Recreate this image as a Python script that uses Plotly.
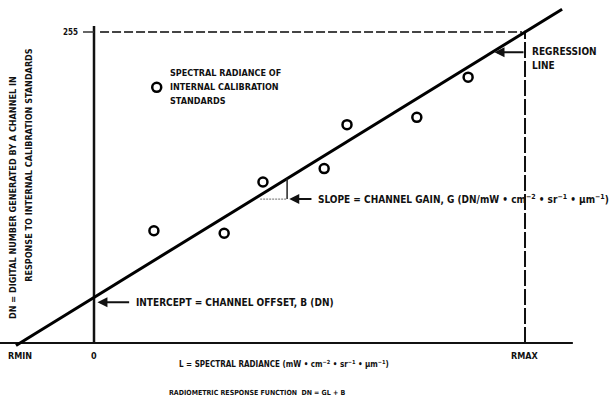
import plotly.graph_objects as go

# ---- data ----
cal_L = [1.39, 3.02, 3.92, 5.34, 5.87, 7.49, 8.68]      # spectral radiance of calibration standards
cal_DN = [92, 90, 132, 143, 179, 185, 218]              # digital numbers
DN_MAX = 255
RMAX = 10.0
RMIN = -1.717
GAIN = DN_MAX / (RMAX - RMIN)
OFFSET = -GAIN * RMIN
line_L = [-1.81, 10.86]
legend_L = [1.455]
legend_DN = [209.6]
x_labels = ["RMIN", "0", "RMAX"]

FONT = "Liberation Sans Narrow, DejaVu Sans Condensed, Arial Narrow, Liberation Sans, sans-serif"

def reg(L):
    return GAIN * L + OFFSET

fig = go.Figure()

# baseline (DN = 0)
fig.add_trace(go.Scatter(x=[-2.181, 11.11], y=[0, 0], mode="lines",
                         line=dict(color="#111", width=2), hoverinfo="skip"))
# vertical axis (L = 0)
fig.add_trace(go.Scatter(x=[0, 0], y=[0, 260], mode="lines",
                         line=dict(color="#111", width=2.5), hoverinfo="skip"))
# RMAX line
fig.add_trace(go.Scatter(x=[RMAX, RMAX], y=[0, DN_MAX + 1], mode="lines",
                         line=dict(color="#111", width=2, dash="16px,3px"), hoverinfo="skip"))
# 255 dashed level
fig.add_trace(go.Scatter(x=[0.14, 9.93], y=[DN_MAX, DN_MAX], mode="lines",
                         line=dict(color="#444", width=1.8, dash="9px,3px"), hoverinfo="skip"))
# small tick at 255
fig.add_trace(go.Scatter(x=[-0.255, 0], y=[DN_MAX, DN_MAX], mode="lines",
                         line=dict(color="#333", width=1.5), hoverinfo="skip"))
# regression line
fig.add_trace(go.Scatter(x=line_L, y=[reg(v) for v in line_L], mode="lines",
                         line=dict(color="#000", width=3), hoverinfo="skip"))
# slope triangle
tri_L = 4.48
tri_DN = 118
fig.add_trace(go.Scatter(x=[tri_L, tri_L], y=[reg(tri_L), tri_DN], mode="lines",
                         line=dict(color="#222", width=1.5), hoverinfo="skip"))
fig.add_trace(go.Scatter(x=[(tri_DN - OFFSET) / GAIN + 0.15, tri_L], y=[tri_DN, tri_DN], mode="lines",
                         line=dict(color="#888", width=1.2, dash="2px,1px"), hoverinfo="skip"))
# calibration points
fig.add_trace(go.Scatter(x=cal_L, y=cal_DN, mode="markers",
                         marker=dict(symbol="circle-open", size=9, color="#000",
                                     line=dict(width=2.5, color="#000")), hoverinfo="skip"))
# legend circle
fig.add_trace(go.Scatter(x=legend_L, y=legend_DN, mode="markers",
                         marker=dict(symbol="circle-open", size=9, color="#000",
                                     line=dict(width=2.5, color="#000")), hoverinfo="skip"))

ann = []
def txt(x, y, s, xa="left", ya="middle", size=9, **kw):
    ann.append(dict(x=x, y=y, xref="x", yref="y", text=s, showarrow=False,
                    xanchor=xa, yanchor=ya,
                    font=dict(family=FONT, size=size, color="#111", weight="bold"), **kw))

txt(-0.33, DN_MAX, "255", xa="right", size=8)
txt(1.71, 221.2, "SPECTRAL RADIANCE OF", size=9)
txt(1.71, 209.6, "INTERNAL CALIBRATION", size=9)
txt(1.71, 198.1, "STANDARDS", size=9)
txt(10.12, 239.3, "REGRESSION", size=10)
txt(10.12, 227.8, "LINE", size=10)
txt(5.15, tri_DN, "SLOPE = CHANNEL GAIN, G (DN/mW • cm<sup>−2</sup> • sr<sup>−1</sup> • µm<sup>−1</sup>)", size=10)
txt(0.92, OFFSET - 4, "INTERCEPT = CHANNEL OFFSET, B (DN)", size=10)
for xv, lab in zip([RMIN, 0, RMAX], x_labels):
    txt(xv, -5, lab, xa="center", ya="top", size=9)
txt(4.41, -17, "L = SPECTRAL RADIANCE (mW • cm<sup>−2</sup> • sr<sup>−1</sup> • µm<sup>−1</sup>)", xa="center", size=8)
txt(3.78, -41, "RADIOMETRIC RESPONSE FUNCTION  DN = GL + B", xa="center", size=7)
txt(-1.88, 119.7, "DN = DIGITAL NUMBER GENERATED BY A CHANNEL IN", xa="center", textangle=-90, size=9)
txt(-1.51, 146.0, "RESPONSE TO INTERNAL CALIBRATION STANDARDS", xa="center", textangle=-90, size=9)

def arrow(x_head, y_head, x_tail, y_tail):
    ann.append(dict(x=x_head, y=y_head, ax=x_tail, ay=y_tail, xref="x", yref="y",
                    axref="x", ayref="y", text="", showarrow=True,
                    arrowhead=2, arrowsize=1, arrowwidth=2, arrowcolor="#111"))

reg_DN = 238.5
arrow((reg_DN - OFFSET) / GAIN + 0.05, reg_DN, RMAX, reg_DN)
arrow(tri_L + 0.05, tri_DN, 5.08, tri_DN)
arrow(0.08, OFFSET - 4, 0.85, OFFSET - 4)

fig.update_layout(
    width=616, height=407, margin=dict(l=0, r=0, t=0, b=0),
    paper_bgcolor="white", plot_bgcolor="white", showlegend=False,
    xaxis=dict(range=[-2.181, 12.111], visible=False, fixedrange=True),
    yaxis=dict(range=[-52.48, 281.24], visible=False, fixedrange=True),
    annotations=ann,
)

fig.write_html("out.html", config={"displayModeBar": False},
               post_script="document.body.style.margin='0';")
